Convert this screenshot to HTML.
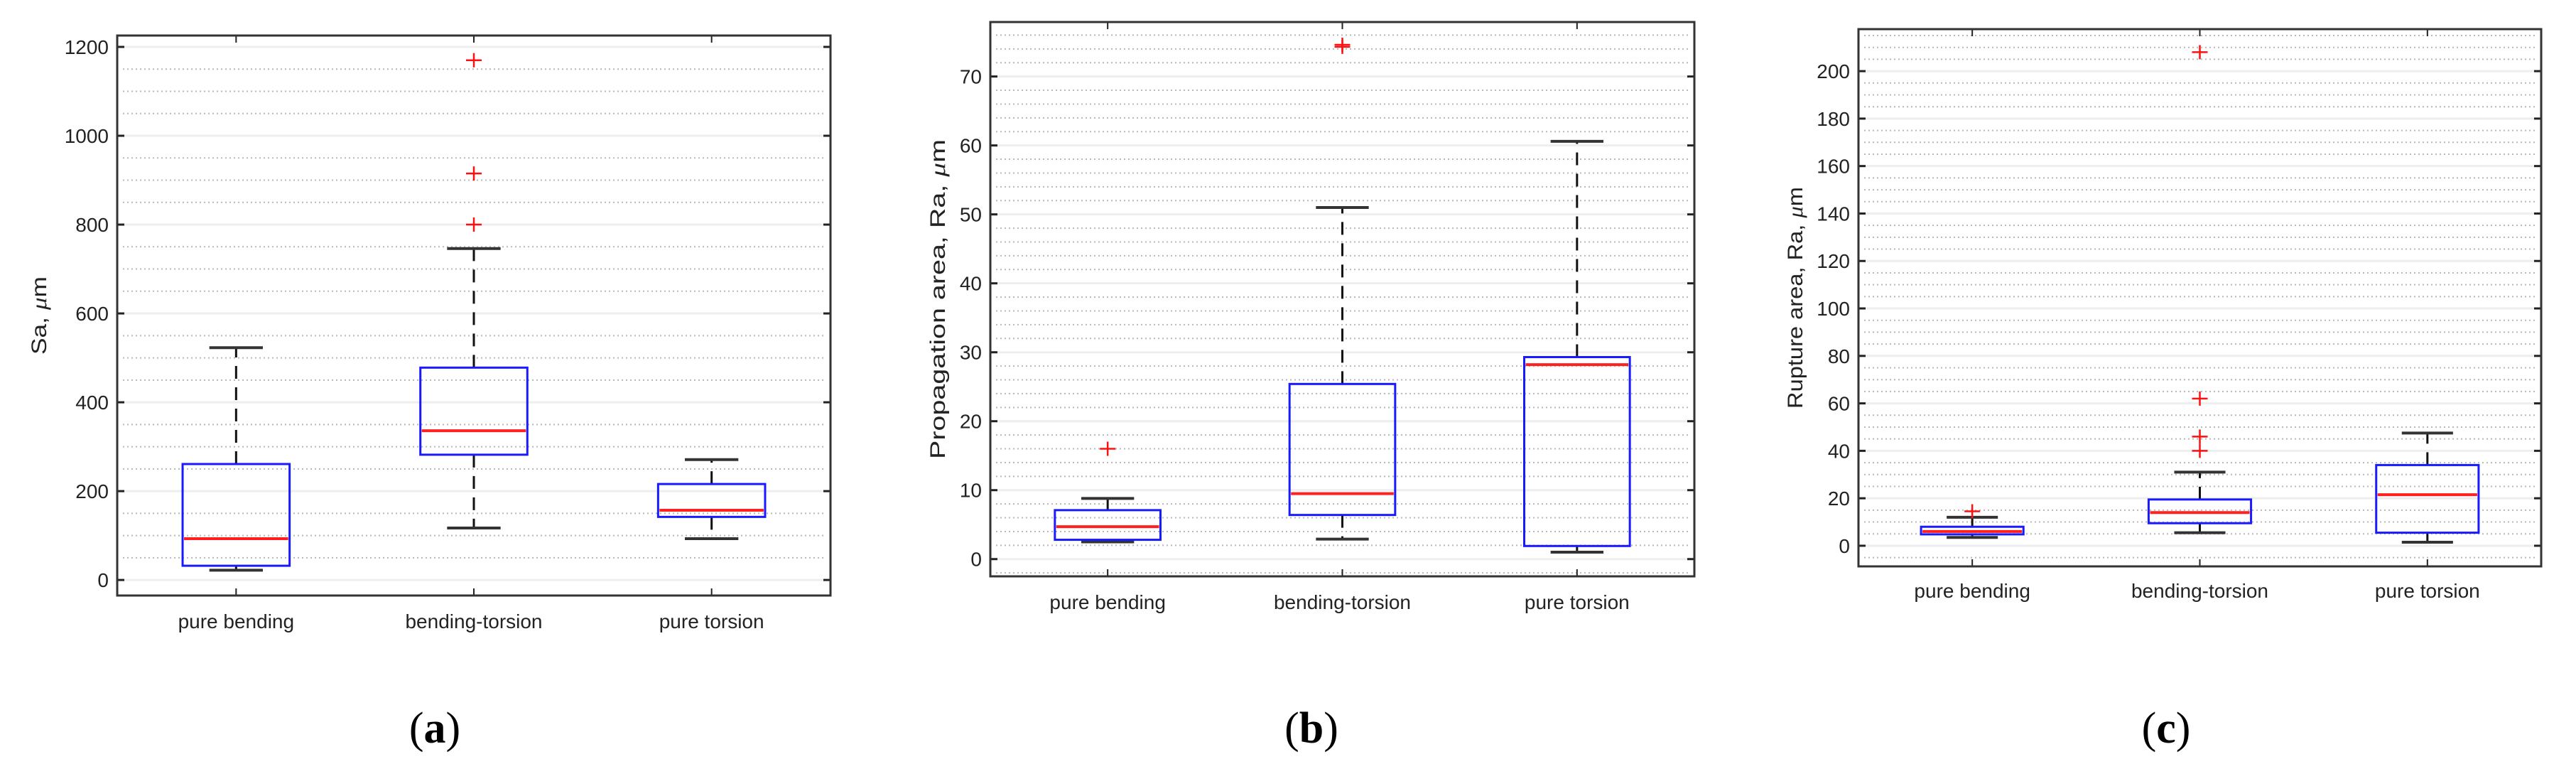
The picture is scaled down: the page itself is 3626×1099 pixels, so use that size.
<!DOCTYPE html>
<html><head><meta charset="utf-8"><style>
html,body{margin:0;padding:0;background:#fff;}
svg{display:block;}
text{font-family:"Liberation Sans",sans-serif;fill:#222;}
.cap{font-family:"Liberation Serif",serif;fill:#000;}
</style></head><body>
<svg id="fig" width="3626" height="1099" viewBox="0 0 3626 1099" xmlns="http://www.w3.org/2000/svg"></svg>
<script>
const categories = ["pure bending", "bending-torsion", "pure torsion"];
// panel a: Sa
const aQ1 = [32, 282, 142];
const aMed = [93, 336, 157];
const aQ3 = [261, 478, 216];
const aLo = [22, 117, 93];
const aHi = [523, 746, 271];
const aOut = [[], [1170, 915, 800], []];
const aTicks = [0, 200, 400, 600, 800, 1000, 1200];
// panel b: Propagation Ra
const bQ1 = [2.8, 6.4, 1.9];
const bMed = [4.7, 9.5, 28.2];
const bQ3 = [7.1, 25.4, 29.3];
const bLo = [2.5, 2.9, 1.0];
const bHi = [8.8, 51, 60.6];
const bOut = [[16], [74.3, 74.6], []];
const bTicks = [0, 10, 20, 30, 40, 50, 60, 70];
// panel c: Rupture Ra
const cQ1 = [4.8, 9.5, 5.5];
const cMed = [6, 14, 21.5];
const cQ3 = [8, 19.5, 34];
const cLo = [3.5, 5.5, 1.5];
const cHi = [12, 31, 47.5];
const cOut = [[14.5], [208, 62, 46, 40], []];
const cTicks = [0, 20, 40, 60, 80, 100, 120, 140, 160, 180, 200];

const NS = "http://www.w3.org/2000/svg";
const svg = document.getElementById("fig");
function mk(tag, attrs, parent) {
  const e = document.createElementNS(NS, tag);
  for (const k in attrs) e.setAttribute(k, attrs[k]);
  (parent || svg).appendChild(e);
  return e;
}

const panels = [
  {id:"a", L:165, R:1169, T:50, B:838, ymin:-35, ymax:1225.6, minor:50, ticks:aTicks,
   q1:aQ1, med:aMed, q3:aQ3, lo:aLo, hi:aHi, out:aOut,
   title:"Sa, ", tx:65, tlen:110, labY:884, capX:612, capL:"a"},
  {id:"b", L:1394, R:2385, T:31, B:811, ymin:-2.5, ymax:77.9, minor:2, ticks:bTicks,
   q1:bQ1, med:bMed, q3:bQ3, lo:bLo, hi:bHi, out:bOut,
   title:"Propagation area, Ra, ", tx:1330, tlen:450, labY:857, capX:1846, capL:"b"},
  {id:"c", L:2616, R:3577, T:41, B:797, ymin:-8.7, ymax:217.7, minor:5, ticks:cTicks,
   q1:cQ1, med:cMed, q3:cQ3, lo:cLo, hi:cHi, out:cOut,
   title:"Rupture area, Ra, ", tx:2537, tlen:312, labY:841, capX:3049, capL:"c"}
];

panels.forEach(p => {
  const g = mk("g", {});
  
  
  const y = v => p.B - (v - p.ymin) / (p.ymax - p.ymin) * (p.B - p.T);
  const unit = (p.R - p.L) / 3;
  const x = i => p.L + unit * (i + 0.5);
  const bw = unit * 0.45;

  for (let v = Math.ceil(p.ymin / p.minor) * p.minor; v <= p.ymax; v += p.minor) {
    const major = p.ticks.includes(v);
    const ln = mk("line", {x1:p.L+8, x2:p.R-8, y1:y(v), y2:y(v),
      stroke: major ? "#eeeeee" : "#b8b8b8", "stroke-width": major ? 3 : 2,
      "stroke-dasharray": major ? "none" : "2 4"}, g);
    
    
  }

  categories.forEach((c, i) => {
    const bx = mk("g", {}, g);
    
    
    const cx = x(i);
    mk("line", {x1:cx, x2:cx, y1:y(p.q3[i]), y2:y(p.hi[i]), stroke:"#111", "stroke-width":3, "stroke-dasharray":"18 12"}, bx);
    mk("line", {x1:cx, x2:cx, y1:y(p.q1[i]), y2:y(p.lo[i]), stroke:"#111", "stroke-width":3, "stroke-dasharray":"18 12"}, bx);
    mk("line", {x1:cx-bw/4, x2:cx+bw/4, y1:y(p.hi[i]), y2:y(p.hi[i]), stroke:"#333", "stroke-width":4}, bx);
    mk("line", {x1:cx-bw/4, x2:cx+bw/4, y1:y(p.lo[i]), y2:y(p.lo[i]), stroke:"#333", "stroke-width":4}, bx);
    mk("rect", {x:cx-bw/2, y:y(p.q3[i]), width:bw, height:y(p.q1[i]) - y(p.q3[i]), fill:"none", stroke:"#1a1aff", "stroke-width":3}, bx);
    mk("line", {x1:cx-bw/2+2, x2:cx+bw/2-2, y1:y(p.med[i]), y2:y(p.med[i]), stroke:"#ff2020", "stroke-width":4}, bx);
    p.out[i].forEach(v => {
      const o = mk("path", {d:`M${cx-11},${y(v)}H${cx+11}M${cx},${y(v)-10}V${y(v)+10}`, stroke:"#ff1010", "stroke-width":2.5, fill:"none"}, bx);
      
      
    });
    const lab = mk("text", {x:cx, y:p.labY, "font-size":28, "text-anchor":"middle"}, g);
    lab.textContent = c;
    
    
    mk("line", {x1:cx, x2:cx, y1:p.B, y2:p.B-10, stroke:"#222", "stroke-width":2}, g);
    mk("line", {x1:cx, x2:cx, y1:p.T, y2:p.T+10, stroke:"#222", "stroke-width":2}, g);
  });

  p.ticks.forEach(v => {
    mk("line", {x1:p.L, x2:p.L+10, y1:y(v), y2:y(v), stroke:"#222", "stroke-width":3}, g);
    mk("line", {x1:p.R, x2:p.R-10, y1:y(v), y2:y(v), stroke:"#222", "stroke-width":3}, g);
    const t = mk("text", {x:p.L-12, y:y(v)+10, "font-size":28, "text-anchor":"end"}, g);
    t.textContent = v;
    
    
  });

  const fr = mk("rect", {x:p.L, y:p.T, width:p.R-p.L, height:p.B-p.T, fill:"none", stroke:"#333", "stroke-width":3}, g);
  
  

  const cy = (p.T + p.B) / 2;
  const tt = mk("text", {x:p.tx, y:cy, "font-size":30, "text-anchor":"middle", transform:`rotate(-90 ${p.tx} ${cy})`, textLength:p.tlen, lengthAdjust:"spacingAndGlyphs"}, g);
  tt.textContent = p.title;
  const mu = mk("tspan", {"font-style":"italic", "font-family":"Liberation Serif, serif"}, tt);
  mu.textContent = "μ";
  const m = mk("tspan", {}, tt);
  m.textContent = "m";
  
  

  const cap = mk("text", {x:p.capX, y:1045, "font-size":62, "text-anchor":"middle", class:"cap"}, g);
  cap.textContent = "(";
  const cb = mk("tspan", {"font-weight":"bold"}, cap);
  cb.textContent = p.capL;
  const ce = mk("tspan", {}, cap);
  ce.textContent = ")";
  
  
});
</script>
</body></html>
